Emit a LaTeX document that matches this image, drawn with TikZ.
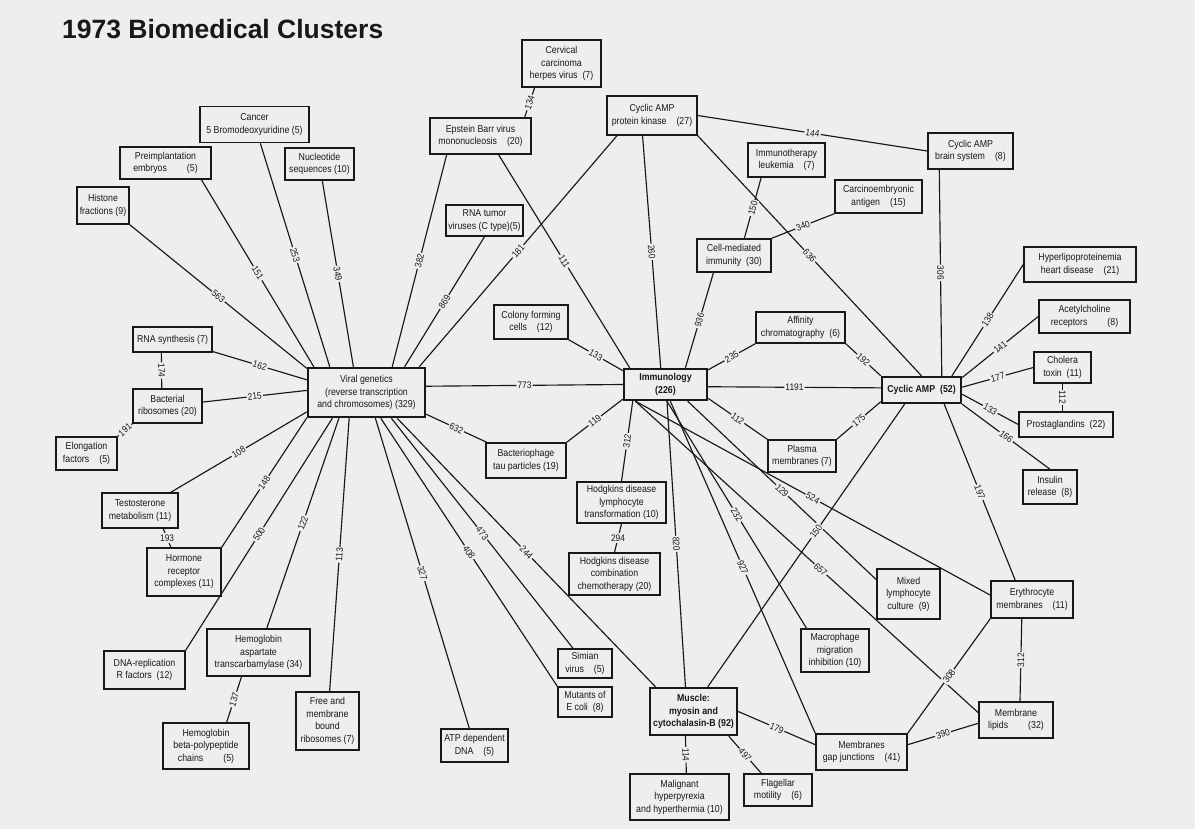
\documentclass[tikz,border=0pt]{standalone}
\usepackage{fontspec}
\setmainfont{Liberation Sans}
\newfontfamily\boxfont{Liberation Sans}[FakeStretch=0.88]

\definecolor{paper}{RGB}{238,238,236}
\definecolor{ink}{RGB}{24,24,24}

\begin{document}
\begin{tikzpicture}[x=1pt,y=-1pt,
    box/.style={draw=ink,line width=1.5pt,fill=paper,text=ink,align=center,
      font=\boxfont\fontsize{10}{12.5}\selectfont,inner xsep=2pt,inner ysep=1pt},
    sz/.style 2 args={minimum width=#1,minimum height=#2},
    hub/.style={box,line width=2.4pt},
    link/.style={draw=ink,line width=1.15pt},
    lbl/.style={fill=paper,text=ink,inner sep=1.2pt,sloped,
      font=\boxfont\fontsize{9.5}{10}\selectfont},
    flat/.style={fill=paper,text=ink,inner sep=1.2pt,
      font=\boxfont\fontsize{9.5}{10}\selectfont}]

  \fill[paper] (0,0) rectangle (1195,829);
  \useasboundingbox (0,0) rectangle (1195,829);

  \node[anchor=west,inner sep=0pt,text=ink,font=\fontsize{26.5}{30}\selectfont\bfseries] (title) at (62,29) {1973 Biomedical Clusters};

  % the three hubs and the muscle cluster
  \node[hub,sz={117}{49}] (viral) at (366.5,392.5) {Viral genetics\\(reverse transcription\\and chromosomes) (329)};
  \node[hub,sz={83}{31},font=\boxfont\bfseries\fontsize{10}{12.5}\selectfont] (immun) at (665.5,384.5) {Immunology\\(226)};
  \node[hub,sz={79}{26},font=\boxfont\bfseries\fontsize{10}{12.5}\selectfont] (camp) at (921.5,390) {Cyclic AMP\ \ (52)};
  \node[hub,sz={87}{47},font=\boxfont\bfseries\fontsize{10}{12.5}\selectfont] (muscle) at (693.5,711.5) {Muscle:\\myosin and\\cytochalasin-B (92)};

  % upper left
  \node[box,sz={109}{36}] (cancer) at (254.5,124.5) {Cancer\\5 Bromodeoxyuridine\ (5)};
  \node[box,sz={91}{32}] (preimp) at (165.5,163) {Preimplantation\\embryos\qquad(5)};
  \node[box,sz={69}{32}] (nucl) at (319.5,164) {Nucleotide\\sequences (10)};
  \node[box,sz={52}{37}] (hist) at (103,205.5) {Histone\\fractions (9)};
  \node[box,sz={79}{47}] (cerv) at (561.5,63.5) {Cervical\\carcinoma\\herpes virus\ \ (7)};
  \node[box,sz={101}{36}] (ebv) at (480.5,136) {Epstein Barr virus\\mononucleosis\quad(20)};
  \node[box,sz={77}{31}] (rnatum) at (484.5,220.5) {RNA tumor\\viruses (C type)(5)};

  % upper right
  \node[box,sz={90}{39}] (kinase) at (652,115.5) {Cyclic AMP\\protein kinase\quad(27)};
  \node[box,sz={77}{34}] (immther) at (786.5,160) {Immunotherapy\\leukemia\quad(7)};
  \node[box,sz={74}{33}] (cellmed) at (734,255.5) {Cell-mediated\\immunity\ \ (30)};
  \node[box,sz={85}{36}] (brain) at (970.5,151) {Cyclic AMP\\brain system\quad(8)};
  \node[box,sz={87}{33}] (carcemb) at (878.5,196.5) {Carcinoembryonic\\antigen\quad(15)};
  \node[box,sz={74}{34}] (colony) at (531,322) {Colony forming\\cells\quad(12)};
  \node[box,sz={89}{31}] (affin) at (800.5,327.5) {Affinity\\chromatography\ \ (6)};

  % right
  \node[box,sz={112}{35}] (hyper) at (1080,264.5) {Hyperlipoproteinemia\\heart disease\quad(21)};
  \node[box,sz={91}{33}] (acetyl) at (1084.5,316.5) {Acetylcholine\\receptors\qquad(8)};
  \node[box,sz={57}{31}] (cholera) at (1062.5,367.5) {Cholera\\toxin\ \ (11)};
  \node[box,sz={94}{25}] (prost) at (1066,424.5) {Prostaglandins\ \ (22)};
  \node[box,sz={54}{34}] (insulin) at (1050,487) {Insulin\\release\ \ (8)};

  % left
  \node[box,sz={79}{25}] (rnasyn) at (172.5,339.5) {RNA synthesis (7)};
  \node[box,sz={69}{34}] (bactrib) at (167.5,406) {Bacterial\\ribosomes (20)};
  \node[box,sz={61}{33}] (elong) at (86.5,453.5) {Elongation\\factors\quad(5)};
  \node[box,sz={76}{35}] (testo) at (140,510.5) {Testosterone\\metabolism (11)};
  \node[box,sz={74}{48}] (hormone) at (184,572) {Hormone\\receptor\\complexes (11)};
  \node[box,sz={81}{38}] (dnarep) at (144.5,670) {DNA-replication\\R factors\ \ (12)};
  \node[box,sz={103}{47}] (hemasp) at (258.5,652.5) {Hemoglobin\\aspartate\\transcarbamylase (34)};
  \node[box,sz={86}{46}] (hembeta) at (206,746) {Hemoglobin\\beta-polypeptide\\chains\qquad(5)};
  \node[box,sz={63}{58}] (freerib) at (327.5,721) {Free and\\membrane\\bound\\ribosomes (7)};

  % lower middle
  \node[box,sz={80}{35}] (phage) at (526,460.5) {Bacteriophage\\tau particles (19)};
  \node[box,sz={89}{41}] (hodg1) at (621.5,502.5) {Hodgkins disease\\lymphocyte\\transformation (10)};
  \node[box,sz={91}{42}] (hodg2) at (614.5,574) {Hodgkins disease\\combination\\chemotherapy (20)};
  \node[box,sz={67}{33}] (atp) at (474.5,745.5) {ATP dependent\\DNA\quad(5)};
  \node[box,sz={54}{29}] (simian) at (585,663.5) {Simian\\virus\quad(5)};
  \node[box,sz={54}{30}] (mutants) at (585,702) {Mutants of\\E coli\ \ (8)};
  \node[box,sz={99}{46}] (malig) at (679.5,797) {Malignant\\hyperpyrexia\\and hyperthermia (10)};
  \node[box,sz={68}{32}] (flag) at (778,790) {Flagellar\\motility\quad(6)};

  % lower right
  \node[box,sz={68}{32}] (plasma) at (802,456) {Plasma\\membranes (7)};
  \node[box,sz={63}{50}] (mixed) at (908.5,594) {Mixed\\lymphocyte\\culture\ \ (9)};
  \node[box,sz={68}{43}] (macro) at (835,650.5) {Macrophage\\migration\\inhibition (10)};
  \node[box,sz={82}{37}] (eryth) at (1032,599.5) {Erythrocyte\\membranes\quad(11)};
  \node[box,sz={91}{36}] (gapj) at (861.5,752) {Membranes\\gap junctions\quad(41)};
  \node[box,sz={74}{36}] (lipids) at (1016,720) {Membrane\\lipids\qquad(32)};

  % spokes of viral genetics
  \path[link]
    (viral.158) edge node[lbl] {563} (hist.south east)
    (viral.154) edge node[lbl] {151} (preimp.335)
    (viral.145) edge node[lbl] {253} (cancer)
    (viral.117) edge node[lbl] {349} (nucl)
    (viral.45)  edge node[lbl] {382} (ebv.209)
    (viral.34)  edge node[lbl] {869} (rnatum.south)
    (viral.26)  edge node[lbl] {181} (kinase.210)
    (viral.168) edge node[lbl] {162} (rnasyn)
    (viral.178) edge node[lbl] {215} (bactrib)
    (viral.198) edge node[lbl] {108} (testo)
    (viral.203) edge node[lbl] {148} (hormone.north east)
    (viral.217) edge node[lbl] {500} (dnarep.north east)
    (viral.223) edge node[lbl] {122} (hemasp)
    (viral.236) edge node[lbl] {113} (freerib)
    (viral.289) edge node[lbl] {327} (atp)
    (viral.299) edge node[lbl] {408} (mutants.north west)
    (viral.314) edge node[lbl] {473} (simian)
    (viral.320) edge node[lbl] {244} (muscle.147)
    (viral.340) edge node[lbl] {632} (phage)
    (viral.6)   edge node[lbl] {773} (immun.west);

  % the rest
  \path[link]
    (cerv.222) edge node[lbl] {134} (ebv.23)
    (ebv.314) edge node[lbl] {111} (immun.155)
    (rnasyn.230) edge node[lbl] {174} (bactrib.108)
    (bactrib.south west) edge node[lbl] {191} (elong.north east)
    (testo.322) edge node[flat] {193} (hormone.118)
    (hemasp.235) edge node[lbl] {137} (hembeta.49)
    (kinase.245) edge node[lbl] {260} (immun.106)
    (kinase.east) edge node[lbl] {144} (brain.west)
    (kinase.south east) edge node[lbl] {636} (camp.north)
    (immther.215) edge node[lbl] {150} (cellmed.59)
    (carcemb.south west) edge node[lbl] {340} (cellmed.north east)
    (cellmed.220) edge node[lbl] {936} (immun.40)
    (brain.211) edge node[lbl] {306} (camp.35)
    (colony.south east) edge node[lbl] {133} (immun.162)
    (immun.19) edge node[lbl] {235} (affin.south west)
    (affin.south east) edge node[lbl] {192} (camp.north west)
    (immun.357) edge node[lbl] {1191} (camp.177)
    (phage.north east) edge node[lbl] {119} (immun.199)
    (immun.207) edge node[lbl] {312} (hodg1.north)
    (hodg1.south) edge node[flat] {294} (hodg2.north)
    (immun.342) edge node[lbl] {112} (plasma.north west)
    (plasma.north east) edge node[lbl] {175} (camp.196)
    (immun.275) edge node[lbl] {820} (muscle.108)
    (immun.323) edge node[lbl] {129} (mixed.156)
    (immun.209) edge node[lbl] {524} (eryth.174)
    (immun.275) edge node[lbl] {232} (macro.142)
    (immun.286) edge node[lbl] {927} (gapj.north west)
    (immun.209) edge node[lbl,pos=.54] {657} (lipids.169)
    (camp.220) edge node[lbl,pos=.45] {150} (muscle.60)
    (camp.25) edge node[lbl] {138} (hyper.west)
    (camp.17) edge node[lbl] {141} (acetyl.west)
    (camp.4) edge node[lbl] {177} (cholera.west)
    (cholera.south) edge node[lbl] {112} (cholera.south |- prost.north)
    (camp.354) edge node[lbl] {133} (prost.west)
    (camp.south east) edge node[lbl] {166} (insulin.north)
    (camp.328) edge node[lbl] {197} (eryth.131)
    (eryth.242) edge node[lbl] {312} (lipids.78)
    (eryth.south west) edge node[lbl] {308} (gapj.north east)
    (gapj.9) edge node[lbl] {390} (lipids.185)
    (muscle.east) edge node[lbl] {179} (gapj.171)
    (muscle.252) edge node[lbl] {114} (malig.74)
    (muscle.325) edge node[lbl] {497} (flag.135);

\end{tikzpicture}
\end{document}
